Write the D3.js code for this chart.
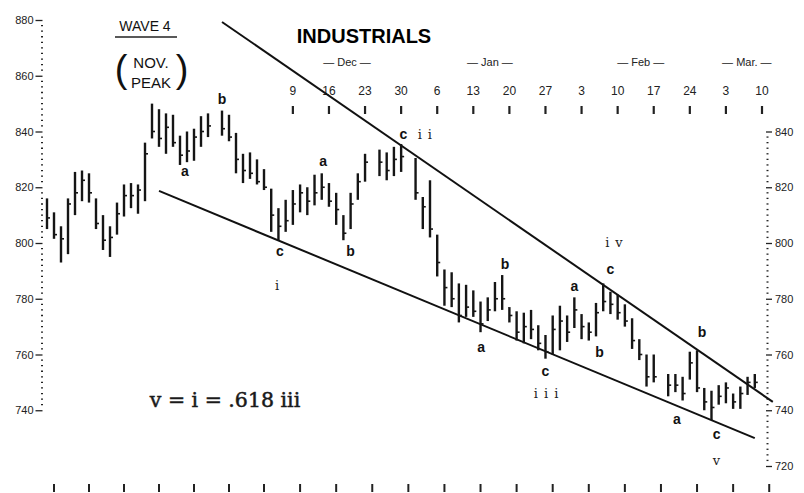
<!DOCTYPE html>
<html>
<head>
<meta charset="utf-8">
<script src="https://cdn.jsdelivr.net/npm/d3@7"></script>
<style>
  body { margin: 0; background: #fff; }
  svg { display: block; }
  .axis text { font-family: "Liberation Sans", sans-serif; font-size: 11px; fill: #222; }
  .axis line { stroke: #222; stroke-width: 1.3; }
  .hand { font-family: "Liberation Sans", sans-serif; font-weight: bold; font-size: 14px; fill: #111; text-anchor: middle; }
  .roman { font-family: "DejaVu Serif", serif; font-size: 13px; fill: #222; text-anchor: middle; }
</style>
</head>
<body>
<div id="chart"></div>
<script>
// daily bars, one slot per weekday starting Fri Oct 21 (null = market holiday)
const highs = [816, 811, 806, 816, 825.5, 826, 825, 816, 810, 806,
  814.5, 821, 821.5, 821, 836, 850, 848, 846.5, 846, 838.5,
  840, 841, 845.5, 846.5, null, 847.5, 846, 839.5, 832, 832.5,
  830, 826.5, 819.5, 812.5, 815.5, 819, 821, 820, 824.5, 825,
  821.5, 818, 810, 818, 825, 832, null, 833.5, 832.5, 834.5,
  835.5, null, 830.5, 816.5, 822.5, 803, 790.5, 789.5, 785.5, 785,
  783, 779, 780.5, 786, 788.5, 777, 775.5, 775, 776, 770.5,
  767, 774, 777.5, 774, 780.5, 774.5, 771.5, 778.5, 785.5, 782.5,
  781.5, 778, 773, 765.5, 760, 760, null, 753, 753, 752,
  761, 761.5, 748, 747, 749, 750, 746, 748.5, 752, 753];
const lows = [805, 801.5, 793, 796, 810, 815, 814.5, 805, 797.5, 795,
  803, 809.5, 812.5, 810.5, 815, 837.5, 834.5, 832, 834.5, 828,
  829, 829.5, 834.5, 838, null, 838.5, 836.5, 825, 821.5, 823,
  821, 819, 804, 801, 804, 806.5, 811, 810, 813.5, 815.5,
  813, 806.5, 801, 805, 815.5, 822, null, 824, 822.5, 824,
  825.5, null, 815.5, 805, 802, 788, 777.5, 777, 771.5, 773.5,
  773.5, 768, 772, 775.5, 776, 771.5, 765, 764, 765.5, 761.5,
  758.5, 760, 761.5, 764.5, 769.5, 765.5, 765, 766.5, 775.5, 774.5,
  772.5, 770, 762, 758, 748.5, 750, null, 745, 746.5, 743.5,
  751, 746.5, 740, 736.5, 742, 742.5, 740.5, 740.5, 745.5, 748];
const closes = [809, 803, 801.5, 814, 818, 822.5, 818, 807, 801, 802,
  810.5, 817, 817, 819, 832, 840, 837.5, 841.5, 836, 831.5,
  833, 838, 840, 842, null, 841, 838, 830, 826, 825,
  822, 820, 810, 806, 808, 814, 818, 815, 818, 820,
  815, 812, 803.5, 814, 822, 829, null, 829, 826, 830,
  831, null, 818, 813, 805, 793, 784, 780, 774, 777,
  775.5, 771, 776, 780, 780, 774, 768, 770, 769, 764,
  761, 769, 772, 768, 776, 770, 768, 775, 779, 778,
  775, 772, 765, 760, 752, 752, null, 749, 749, 746,
  757, 748, 743, 741, 745, 748, 743, 746, 750, 750];

// weekly date ticks (Fridays) along the top, with month captions
const weekIdx = [35, 40, 45, 50, 55, 60, 65, 70, 75, 80, 85, 90, 95, 100];
const weekLabels = ["9", "16", "23", "30", "6", "13", "20", "27", "3", "10", "17", "24", "3", "10"];
const monthIdx = [42.5, 62.3, 83.2, 97.9];
const monthLabels = ["— Dec —", "— Jan —", "— Feb —", "— Mar. —"];
const bottomIdx = d3.range(1, 102, 5);

const leftTicks = [740, 760, 780, 800, 820, 840, 860, 880];
const rightTicks = [720, 740, 760, 780, 800, 820, 840];

// trend channel, [slot, price]
const upperLine = [[25, 879.3], [101.5, 743]];
const lowerLine = [[16, 818.7], [99, 730]];

// wave letters [text, slot, price]
const handLabels = [["a", 19.7, 824], ["b", 25, 849.8], ["c", 33.2, 795.3], ["a", 39.2, 827.6],
  ["b", 43, 795.3], ["c", 50.3, 837.3], ["a", 61.1, 760.8], ["b", 64.4, 790.6], ["c", 70, 752.2],
  ["a", 74, 782.7], ["b", 77.5, 759], ["c", 79, 788.8], ["a", 88.2, 735], ["b", 91.7, 766.2],
  ["c", 93.7, 729.6]];
const romanLabels = [["i", 32.8, 783.1], ["ii", 53.7, 837.3], ["iii", 70.5, 744.3],
  ["iv", 79.9, 798.5], ["v", 93.7, 720.3]];

const width = 804, height = 493;

const svg = d3.select("#chart").append("svg")
    .attr("width", width)
    .attr("height", height);

const x = d3.scaleLinear().domain([0, 31, 100]).range([47, 264, 762]);
const y = d3.scaleLinear().domain([720, 880]).range([466, 20]);

// left price scale
const gl = svg.append("g").attr("class", "axis")
    .attr("transform", "translate(42.5,0)")
    .call(d3.axisLeft(y).tickValues(leftTicks).tickSize(7).tickPadding(2));
gl.select(".domain").remove();
gl.selectAll(".minor")
  .data(d3.range(740, 881, 2).filter(v => v % 20 !== 0))
  .join("line")
    .attr("x1", -1.5).attr("x2", 0.5)
    .attr("y1", d => y(d)).attr("y2", d => y(d))
    .attr("stroke", "#444").attr("stroke-width", 1.4);

// right price scale
const gr = svg.append("g").attr("class", "axis")
    .attr("transform", "translate(766,0)")
    .call(d3.axisRight(y).tickValues(rightTicks).tickSize(6).tickPadding(3));
gr.select(".domain").remove();
gr.selectAll(".minor")
  .data(d3.range(720, 841, 2).filter(v => v % 20 !== 0))
  .join("line")
    .attr("x1", 0.5).attr("x2", 2.5)
    .attr("y1", d => y(d)).attr("y2", d => y(d))
    .attr("stroke", "#444").attr("stroke-width", 1.4);

// top date ticks
const dateAxis = svg.append("g").attr("class", "axis");
dateAxis.selectAll("text.wk")
  .data(weekIdx)
  .join("text")
    .attr("class", "wk")
    .attr("x", d => x(d))
    .attr("y", 95)
    .attr("text-anchor", "middle")
    .style("font-size", "12px")
    .text((d, i) => weekLabels[i]);
dateAxis.selectAll("line.wk")
  .data(weekIdx)
  .join("line")
    .attr("class", "wk")
    .attr("x1", d => x(d)).attr("x2", d => x(d))
    .attr("y1", 106).attr("y2", 114)
    .style("stroke-width", 2.2);
dateAxis.selectAll("text.mo")
  .data(monthIdx)
  .join("text")
    .attr("class", "mo")
    .attr("x", d => x(d))
    .attr("y", 66)
    .attr("text-anchor", "middle")
    .style("font-size", "11px")
    .text((d, i) => monthLabels[i]);

// bottom week ticks
svg.append("g").selectAll("line")
  .data(bottomIdx)
  .join("line")
    .attr("x1", d => x(d)).attr("x2", d => x(d))
    .attr("y1", 484).attr("y2", 492)
    .attr("stroke", "#222").attr("stroke-width", 2);

// trend channel
const line = d3.line().x(d => x(d[0])).y(d => y(d[1]));
svg.append("g").selectAll("path")
  .data([upperLine, lowerLine])
  .join("path")
    .attr("d", line)
    .attr("fill", "none")
    .attr("stroke", "#111")
    .attr("stroke-width", 2);

// daily high-low bars with closing tick
const days = d3.range(highs.length).filter(i => highs[i] != null);
const bars = svg.append("g").selectAll("g")
  .data(days)
  .join("g");
bars.append("line")
    .attr("x1", i => x(i)).attr("x2", i => x(i))
    .attr("y1", i => y(highs[i])).attr("y2", i => y(lows[i]))
    .attr("stroke", "#151515").attr("stroke-width", 2.4);
bars.append("line")
    .attr("x1", i => x(i)).attr("x2", i => x(i) + 3)
    .attr("y1", i => y(closes[i])).attr("y2", i => y(closes[i]))
    .attr("stroke", "#151515").attr("stroke-width", 1.6);

// wave labels
svg.append("g").selectAll("text")
  .data(handLabels)
  .join("text")
    .attr("class", "hand")
    .attr("x", d => x(d[1]))
    .attr("y", d => y(d[2]))
    .text(d => d[0]);
svg.append("g").selectAll("text")
  .data(romanLabels)
  .join("text")
    .attr("class", "roman")
    .attr("x", d => x(d[1]))
    .attr("y", d => y(d[2]))
    .attr("letter-spacing", d => d[0].length > 1 ? 6 : 0)
    .text(d => d[0]);

// title and notes
svg.append("text")
    .attr("x", 364).attr("y", 43)
    .attr("text-anchor", "middle")
    .style("font-family", "Liberation Sans, sans-serif")
    .style("font-weight", "bold")
    .style("font-size", "20px")
    .text("INDUSTRIALS");

svg.append("text")
    .attr("x", 225).attr("y", 407)
    .attr("text-anchor", "middle")
    .style("font-family", "DejaVu Serif, serif")
    .style("font-size", "20.5px")
    .style("fill", "#1a1a1a")
    .style("stroke", "#1a1a1a")
    .style("stroke-width", 0.5)
    .text("v = i = .618 iii");

const note = svg.append("g")
    .style("font-family", "Liberation Sans, sans-serif")
    .style("fill", "#111")
    .attr("text-anchor", "middle");
note.append("text").attr("x", 145).attr("y", 31).style("font-size", "14px").text("WAVE 4");
note.append("line").attr("x1", 115).attr("x2", 177).attr("y1", 37).attr("y2", 37)
    .attr("stroke", "#222").attr("stroke-width", 1.4);
note.append("text").attr("x", 151).attr("y", 68).style("font-size", "15px").text("NOV.");
note.append("text").attr("x", 151).attr("y", 88).style("font-size", "15px").text("PEAK");
note.append("text").attr("x", 121).attr("y", 82).style("font-size", "38px").style("font-weight", "300").text("(");
note.append("text").attr("x", 182).attr("y", 82).style("font-size", "38px").style("font-weight", "300").text(")");
</script>
</body>
</html>
